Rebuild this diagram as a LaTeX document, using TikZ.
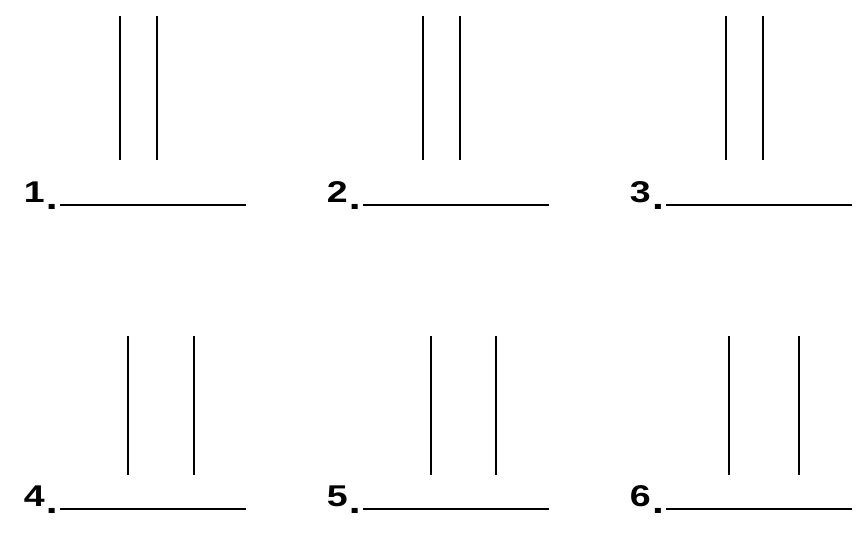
\documentclass[tikz,border=0pt]{standalone}
\usepackage{fontspec}
\usepackage{graphicx}
\setmainfont{Liberation Sans}
\newcommand{\numtext}[1]{\scalebox{1.25}[1]{#1\kern1pt\raisebox{-7pt}{\fontsize{34}{34}\selectfont.}}}
\begin{document}
\begin{tikzpicture}[x=1pt,y=-1pt,
  stroke/.style={line width=2pt,black},
  numlabel/.style={font=\fontsize{30}{31}\selectfont\bfseries,inner sep=0pt,anchor=base east}]
\useasboundingbox (0,0) rectangle (861,533);
% row 1
\foreach \i/\dx in {1/0,2/303,3/606}{
  \node[numlabel] (lab\i) at (58+\dx,202) {\numtext{\i}};
  \coordinate (hl\i) at (60+\dx,205);
  \coordinate (hr\i) at (246+\dx,205);
  \draw[stroke] (hl\i) -- (hr\i);
  \coordinate (at\i) at (120+\dx,16);
  \coordinate (ab\i) at (120+\dx,160);
  \coordinate (bt\i) at (157+\dx,16);
  \coordinate (bb\i) at (157+\dx,160);
  \draw[stroke] (at\i) -- (ab\i);
  \draw[stroke] (bt\i) -- (bb\i);
}
% row 2
\foreach \i/\dx/\va/\vb in {4/0/128/194,5/303/431/496,6/606/729/799}{
  \node[numlabel] (lab\i) at (58+\dx,506) {\numtext{\i}};
  \coordinate (hl\i) at (60+\dx,509);
  \coordinate (hr\i) at (246+\dx,509);
  \draw[stroke] (hl\i) -- (hr\i);
  \coordinate (at\i) at (\va,336);
  \coordinate (ab\i) at (\va,475);
  \coordinate (bt\i) at (\vb,336);
  \coordinate (bb\i) at (\vb,475);
  \draw[stroke] (at\i) -- (ab\i);
  \draw[stroke] (bt\i) -- (bb\i);
}
\end{tikzpicture}
\end{document}
